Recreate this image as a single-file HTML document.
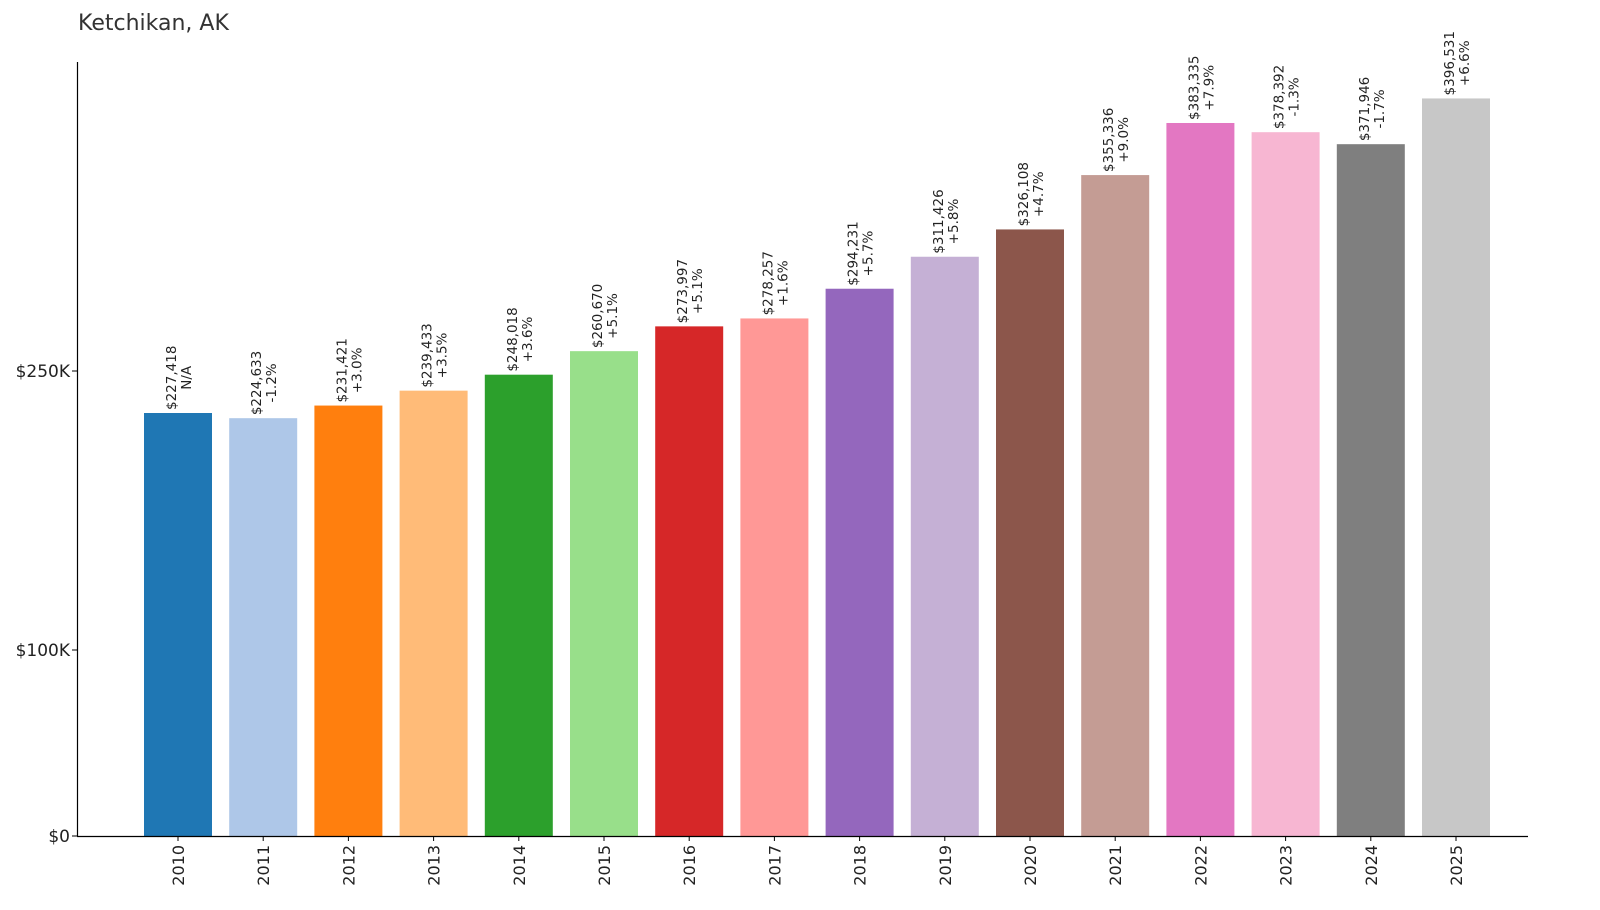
<!DOCTYPE html>
<html><head><meta charset="utf-8"><style>body{margin:0;background:#fff}svg{display:block;font-family:"DejaVu Sans","Liberation Sans",sans-serif}</style></head>
<body>
<svg id="c" width="1600" height="910">
<text x="78" y="30" font-size="22" fill="#333">Ketchikan, AK</text>
<g id="bars"></g>
<line x1="77.5" y1="62" x2="77.5" y2="836" stroke="#000" stroke-width="1.2"/>
<line x1="77" y1="836.5" x2="1528" y2="836.5" stroke="#000" stroke-width="1.2"/>
</svg>
<script>
const years=["2010","2011","2012","2013","2014","2015","2016","2017","2018","2019","2020","2021","2022","2023","2024","2025"];
const values=[227418,224633,231421,239433,248018,260670,273997,278257,294231,311426,326108,355336,383335,378392,371946,396531];
const changes=["N/A","-1.2%","+3.0%","+3.5%","+3.6%","+5.1%","+5.1%","+1.6%","+5.7%","+5.8%","+4.7%","+9.0%","+7.9%","-1.3%","-1.7%","+6.6%"];
const yTicks=[0,100000,250000];
const yTickLabels=["$0","$100K","$250K"];
const colors=["#1f77b4","#aec7e8","#ff7f0e","#ffbb78","#2ca02c","#98df8a","#d62728","#ff9896","#9467bd","#c5b0d5","#8c564b","#c49c94","#e377c2","#f7b6d2","#7f7f7f","#c7c7c7"];
const NS="http://www.w3.org/2000/svg";
const y=v=>836-v*0.00186;
const x=i=>178+i*85.2;
const g=document.getElementById('bars');
function mk(t,a){const e=document.createElementNS(NS,t);for(const k in a)e.setAttribute(k,a[k]);return e;}
yTicks.forEach((t,i)=>{
 const l=mk('line',{x1:72,x2:77,y1:y(t),y2:y(t),stroke:'#000'});
 
 
 g.appendChild(l);
 const tx=mk('text',{x:70,y:y(t)+6,'font-size':17,'text-anchor':'end',fill:'#222'});
 tx.textContent=yTickLabels[i];
 
 
 g.appendChild(tx);
});
years.forEach((yr,i)=>{
 const cx=x(i),top=y(values[i]);
 const r=mk('rect',{x:cx-34,y:top,width:68,height:836-top,fill:colors[i]});
 
 
 g.appendChild(r);
 const tk=mk('line',{x1:cx,x2:cx,y1:836,y2:841,stroke:'#000'});
 
 
 g.appendChild(tk);
 const xl=mk('text',{transform:`translate(${cx+6},845) rotate(-90)`,'font-size':16,'text-anchor':'end',fill:'#222'});
 xl.textContent=yr;
 
 
 g.appendChild(xl);
 const v1=mk('text',{'font-size':13.5,'text-anchor':'middle',fill:'#222'});
 v1.textContent='$'+values[i].toLocaleString('en-US');
 
 
 g.appendChild(v1);
 const w=v1.getComputedTextLength()||62;
 const mid=top-3-w/2;
 v1.setAttribute('transform',`translate(${cx-2},${mid}) rotate(-90)`);
 const v2=mk('text',{'font-size':13.5,'text-anchor':'middle',fill:'#222',transform:`translate(${cx+13},${mid}) rotate(-90)`});
 v2.textContent=changes[i];
 
 
 g.appendChild(v2);
});
</script>
</body></html>
